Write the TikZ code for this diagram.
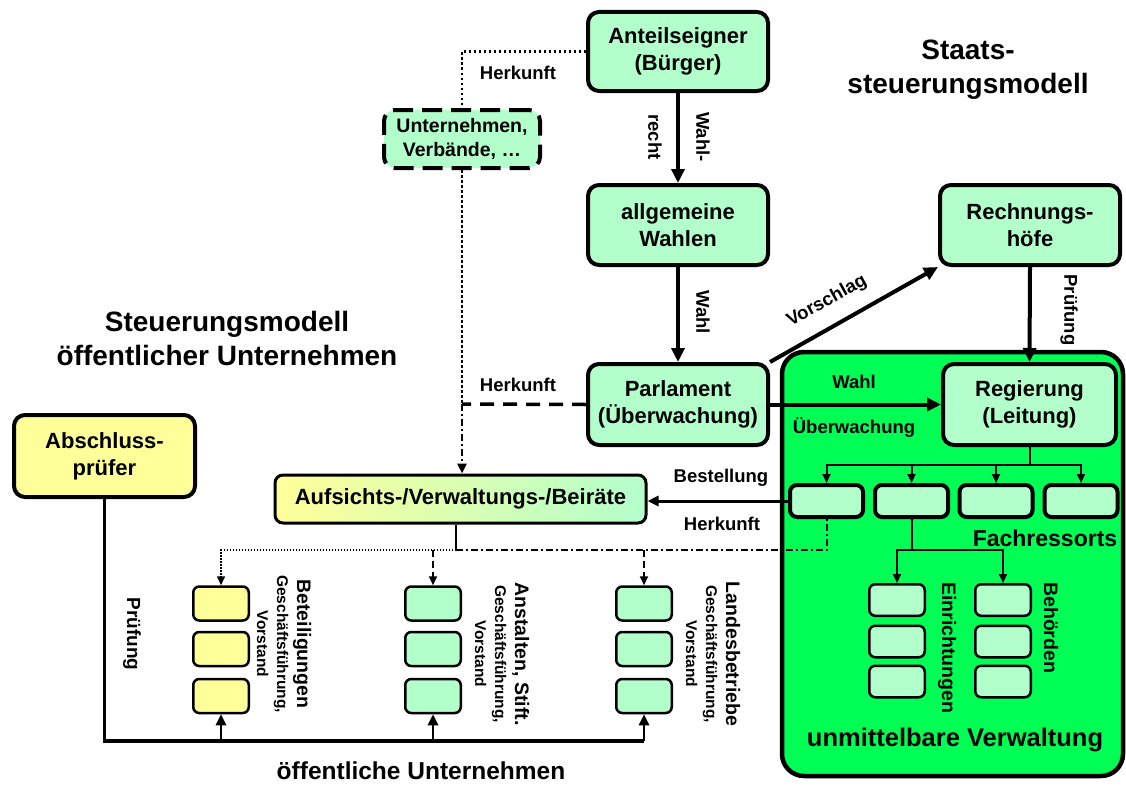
\documentclass[tikz,border=0pt]{standalone}
\usepackage{fontspec}
\setmainfont{Liberation Sans}
\usetikzlibrary{arrows.meta}
\definecolor{lgreen}{RGB}{179,255,204}
\definecolor{lyellow}{RGB}{255,255,153}
\definecolor{bgreen}{RGB}{0,255,85}
\tikzset{
 mbox/.style={draw, line width=4pt, rounded corners=11pt, fill=lgreen, align=center, inner sep=0pt, font=\bfseries\fontsize{22}{27}\selectfont},
 sbox/.style={draw, line width=2.5pt, rounded corners=6pt, fill=lgreen, inner sep=0pt, minimum width=55.5pt, minimum height=34pt},
 fbox/.style={draw, line width=4pt, rounded corners=7pt, fill=lgreen, inner sep=0pt, minimum width=73pt, minimum height=32pt},
 lbl/.style={font=\bfseries\fontsize{18.5}{22}\selectfont, inner sep=0pt},
 collbl/.style={rotate=-90, align=center, inner sep=0pt, font=\bfseries\fontsize{15.5}{20}\selectfont},
 ttl/.style={font=\bfseries\fontsize{28}{34}\selectfont, align=center, inner sep=0pt},
 bigarr/.style={line width=4pt, -{Triangle[length=14pt,width=13pt]}},
 medarr/.style={line width=3pt, -{Triangle[length=11pt,width=10pt]}},
 thinarr/.style={line width=2pt, -{Triangle[length=9pt,width=8pt]}},
 dotln/.style={line width=2.5pt, dash pattern=on 2.5pt off 2.5pt},
 dashln/.style={line width=3.5pt, dash pattern=on 14pt off 9pt},
 thindot/.style={line width=1.5pt, dash pattern=on 1.5pt off 1.5pt},
 thindash/.style={line width=2pt, dash pattern=on 7pt off 4pt},
 thindashdot/.style={line width=2pt, dash pattern=on 7pt off 3pt on 2pt off 3pt},
}
\begin{document}
\begin{tikzpicture}[x=1pt, y=-1pt]
\useasboundingbox (0,0) rectangle (1126,784);
\fill[white] (0,0) rectangle (1126,784);

% titles
\node[ttl] (t1) at (968,70) {Staats-\\steuerungsmodell};
\node[ttl] (t2) at (227,338) {Steuerungsmodell\\öffentlicher Unternehmen};

% big green container
\node[draw, line width=4.5pt, rounded corners=22pt, fill=bgreen, minimum width=341pt, minimum height=424pt, inner sep=0pt] (verw) at (952.5,564) {};

% main boxes
\node[mbox, minimum width=180pt, minimum height=79pt] (ant) at (678,51.5) {Anteilseigner\\(Bürger)};
\node[mbox, minimum width=180pt, minimum height=80pt] (wahlen) at (678,225) {allgemeine\\Wahlen};
\node[mbox, minimum width=180pt, minimum height=81pt] (parl) at (678,404.5) {Parlament\\(Überwachung)};
\node[mbox, minimum width=180pt, minimum height=80pt] (rech) at (1030,225) {Rechnungs-\\höfe};
\node[mbox, minimum width=173pt, minimum height=81pt] (reg) at (1029.5,404.5) {Regierung\\(Leitung)};
\node[mbox, dash pattern=on 20pt off 9pt, minimum width=156pt, minimum height=58pt, font=\bfseries\fontsize{19.5}{24}\selectfont] (unt) at (462,139) {Unternehmen,\\Verbände, \ldots};
\node[mbox, fill=lyellow, minimum width=181pt, minimum height=82pt] (ap) at (104.5,456) {Abschluss-\\prüfer};
\node[mbox, line width=3pt, rounded corners=8pt, left color=lyellow, right color=lgreen, minimum width=371pt, minimum height=48pt] (auf) at (460.5,499) {Aufsichts-/Verwaltungs-/Beiräte};

% Fachressorts
\node[fbox] (f1) at (826.5,501) {};
\node[fbox] (f2) at (911.5,501) {};
\node[fbox] (f3) at (996,501) {};
\node[fbox] (f4) at (1081,501) {};

% Einrichtungen / Behoerden
\node[sbox, minimum height=31.5pt] (e1) at (897,600) {};
\node[sbox, minimum height=31.5pt] (e2) at (897,641.5) {};
\node[sbox, minimum height=31.5pt] (e3) at (897,681.5) {};
\node[sbox, minimum height=31.5pt] (b1) at (1003,600) {};
\node[sbox, minimum height=31.5pt] (b2) at (1003,641.5) {};
\node[sbox, minimum height=31.5pt] (b3) at (1003,681.5) {};

% public enterprises columns
\node[sbox, fill=lyellow] (c1a) at (221,603.5) {};
\node[sbox, fill=lyellow] (c1b) at (221,649) {};
\node[sbox, fill=lyellow] (c1c) at (221,696) {};
\node[sbox] (c2a) at (433,603.5) {};
\node[sbox] (c2b) at (433,649) {};
\node[sbox] (c2c) at (433,696) {};
\node[sbox] (c3a) at (644,603.5) {};
\node[sbox] (c3b) at (644,649) {};
\node[sbox] (c3c) at (644,696) {};

% column labels
\node[collbl] (l1) at (284,644) {{\fontsize{19.5}{20}\selectfont Beteiligungen}\\Geschäftsführung,\\Vorstand};
\node[collbl] (l2) at (502,654) {{\fontsize{19.5}{20}\selectfont Anstalten, Stift.}\\Geschäftsführung,\\Vorstand};
\node[collbl] (l3) at (713,654) {{\fontsize{19.5}{20}\selectfont Landesbetriebe}\\Geschäftsführung,\\Vorstand};

% labels
\node[lbl] (hk1) at (518,73) {Herkunft};
\node[lbl, rotate=-90] (wr1) at (703,137) {Wahl-};
\node[lbl, rotate=-90] (wr2) at (655,137) {recht};
\node[lbl, rotate=-90] (wl1) at (703,312) {Wahl};
\node[lbl, rotate=29] (vs) at (827,301) {Vorschlag};
\node[lbl, rotate=-90] (pr1) at (1069,310) {Prüfung};
\node[lbl] (wl2) at (854,382) {Wahl};
\node[lbl] (ub) at (854,428) {Überwachung};
\node[lbl] (hk2) at (518,385) {Herkunft};
\node[lbl] (best) at (721,478) {Bestellung};
\node[lbl] (hk3) at (722,524) {Herkunft};
\node[lbl, font=\bfseries\fontsize{23}{27}\selectfont] (fr) at (1045,538) {Fachressorts};
\node[lbl, rotate=-90, anchor=west, font=\bfseries\fontsize{19.5}{22}\selectfont] (ein) at (947,582) {Einrichtungen};
\node[lbl, rotate=-90, anchor=west, font=\bfseries\fontsize{19.5}{22}\selectfont] (beh) at (1051,582) {Behörden};
\node[lbl, font=\bfseries\fontsize{25.5}{30}\selectfont] (uv) at (955,740) {unmittelbare Verwaltung};
\node[lbl, rotate=-90, font=\bfseries\fontsize{19}{22}\selectfont] (pr2) at (132,634) {Prüfung};
\node[lbl, font=\bfseries\fontsize{24.5}{28}\selectfont] (ou) at (421,771) {öffentliche Unternehmen};

% coordinates
\coordinate (hj) at (462,404);
\coordinate (rj) at (1029.5,465);
\coordinate (fj) at (911.5,550);
\coordinate (aj) at (456,550);
\coordinate (br) at (644,741);

% upper connectors
\draw[dotln] (ant.west) -| (unt.north);
\draw[dotln] (unt.south) -- (hj);
\draw[dashln] (parl.west) -- (hj);
\draw[thindashdot, line width=2.5pt, -{Triangle[length=10pt,width=9pt]}] (hj) -- (hj |- auf.north);
\draw[bigarr] (ant.south) -- (wahlen.north);
\draw[bigarr] (wahlen.south) -- (parl.north);
\draw[bigarr] (parl.north east) -- (rech.south west);
\draw[bigarr] (rech.south) -- (reg.north);
\draw[bigarr] (parl.east) -- (reg.west);
\draw[medarr] (f1.west) -- (f1.west -| auf.east);

% distribution in government
\draw[line width=2pt] (reg.south) -- (rj);
\draw[thinarr] (rj) -| (f1.north);
\draw[thinarr] (rj) -| (f2.north);
\draw[thinarr] (rj) -| (f3.north);
\draw[thinarr] (rj) -| (f4.north);
\draw[line width=2pt] (f2.south) -- (fj);
\draw[thinarr] (fj) -| (e1.north);
\draw[thinarr] (fj) -| (b1.north);

% lower connectors
\draw[line width=2pt] (auf.south -| aj) -- (aj);
\draw[thindot, -{Triangle[length=9pt,width=8pt]}] (aj) -| (c1a.north);
\draw[thindash, -{Triangle[length=9pt,width=8pt]}] (c2a.north |- aj) -- (c2a.north);
\draw[thindash, -{Triangle[length=9pt,width=8pt]}] (c3a.north |- aj) -- (c3a.north);
\draw[thindashdot] (aj) -| (f1.south);

% audit line
\draw[line width=3.5pt] (ap.south) |- (br);
\draw[medarr, line width=2.5pt] (c1c.south |- br) -- (c1c.south);
\draw[medarr, line width=2.5pt] (c2c.south |- br) -- (c2c.south);
\draw[medarr, line width=2.5pt] (br) -- (c3c.south);
\end{tikzpicture}
\end{document}
